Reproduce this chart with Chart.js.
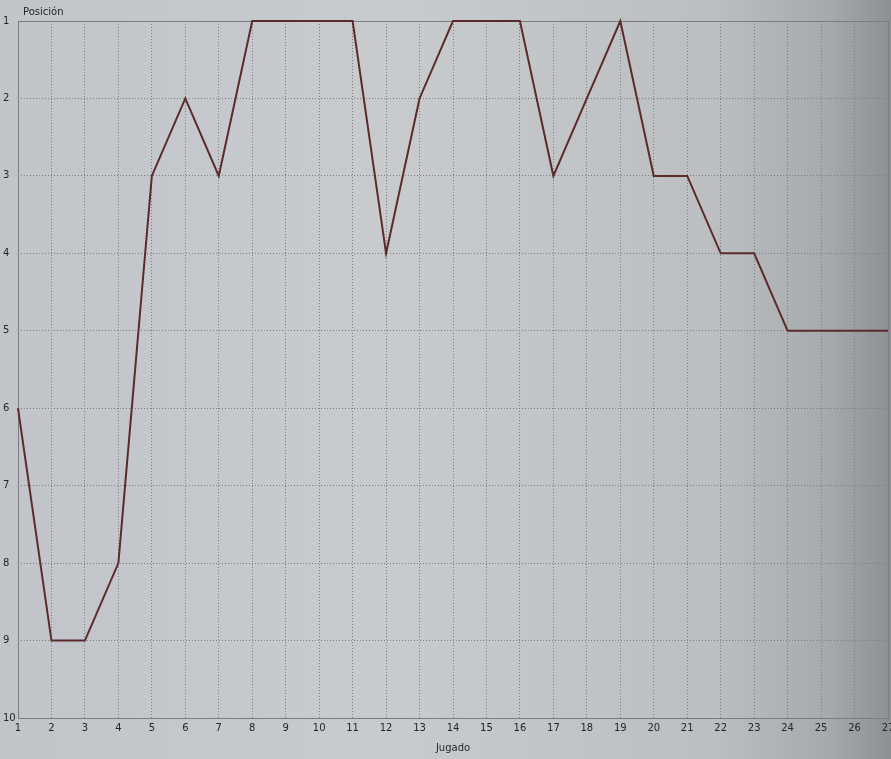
<!DOCTYPE html>
<html>
<head>
<meta charset="utf-8">
<script src="https://cdn.jsdelivr.net/npm/chart.js@4"></script>
<style>
  html, body { margin: 0; padding: 0; }
  #wrap { width: 891px; height: 759px; }
</style>
</head>
<body>
<div id="wrap"><canvas id="chart_pos" width="891" height="759"></canvas></div>
<script>
// jornadas jugadas y posición en la tabla
var jugado = [1,2,3,4,5,6,7,8,9,10,11,12,13,14,15,16,17,18,19,20,21,22,23,24,25,26,27];
var posicion = [6,9,9,8,3,2,3,1,1,1,1,4,2,1,1,1,3,2,1,3,3,4,4,5,5,5,5];
var yTitulo = 'Posición';
var xTitulo = 'Jugado';

/* ------------------
  fondo + marco
-------------------*/
var fondo = {
  id: 'fondo',
  beforeDraw: function (chart) {
    var ctx = chart.ctx;
    var w = chart.width, h = chart.height;
    ctx.save();
    var g = ctx.createLinearGradient(0, 0, w, 0);
    g.addColorStop(0, '#c1c5ca');
    g.addColorStop(0.45, '#c8cbce');
    g.addColorStop(0.8, '#bcbfc2');
    g.addColorStop(0.93, '#a7aaad');
    g.addColorStop(1, '#8c8f93');
    ctx.fillStyle = g;
    ctx.fillRect(0, 0, w, h);
    ctx.restore();
  },
  beforeDatasetsDraw: function (chart) {
    var ctx = chart.ctx;
    var a = chart.chartArea;
    ctx.save();
    ctx.strokeStyle = '#7a7c7e';
    ctx.lineWidth = 1;
    ctx.strokeRect(Math.round(a.left) + 0.5, Math.round(a.top) + 0.5,
      Math.round(a.right - a.left), Math.round(a.bottom - a.top));
    ctx.restore();
  },
  afterDraw: function (chart) {
    var ctx = chart.ctx;
    ctx.save();
    ctx.fillStyle = '#262626';
    ctx.font = '10px "DejaVu Sans"';
    ctx.textBaseline = 'middle';
    ctx.fillText(yTitulo, 23, 12);
    ctx.restore();
  }
};

var chart_pos = new Chart(document.getElementById('chart_pos'), {
  type: 'line',
  data: {
    labels: jugado,
    datasets: [{
      label: yTitulo,
      data: posicion,
      borderColor: '#5b2b2c',
      borderWidth: 2,
      pointRadius: 0,
      tension: 0,
      fill: false,
      clip: 3
    }]
  },
  options: {
    responsive: false,
    animation: false,
    layout: { padding: { top: 21, right: 3, left: 3, bottom: 0 } },
    plugins: {
      legend: { display: false },
      tooltip: { enabled: false }
    },
    scales: {
      x: {
        grid: { color: '#7b7c7e', drawTicks: false },
        border: { display: false, dash: [1, 2] },
        ticks: { color: '#262626', font: { family: 'DejaVu Sans', size: 10 }, padding: 4, maxRotation: 0, autoSkip: false },
        title: { display: true, text: xTitulo, color: '#262626', font: { family: 'DejaVu Sans', size: 10 }, padding: { top: 0, bottom: 5 } },
        afterFit: function (s) { s.height = 41; s.paddingLeft = 0; s.paddingRight = 0; }
      },
      y: {
        reverse: true,
        min: 1,
        max: 10,
        grid: { color: '#7b7c7e', drawTicks: false },
        border: { display: false, dash: [1, 2] },
        ticks: { stepSize: 1, color: '#262626', font: { family: 'DejaVu Sans', size: 10 }, crossAlign: 'far', padding: 3 },
        afterFit: function (s) { s.width = 15; s.paddingTop = 0; s.paddingBottom = 0; }
      }
    }
  },
  plugins: [fondo]
});
</script>
</body>
</html>
